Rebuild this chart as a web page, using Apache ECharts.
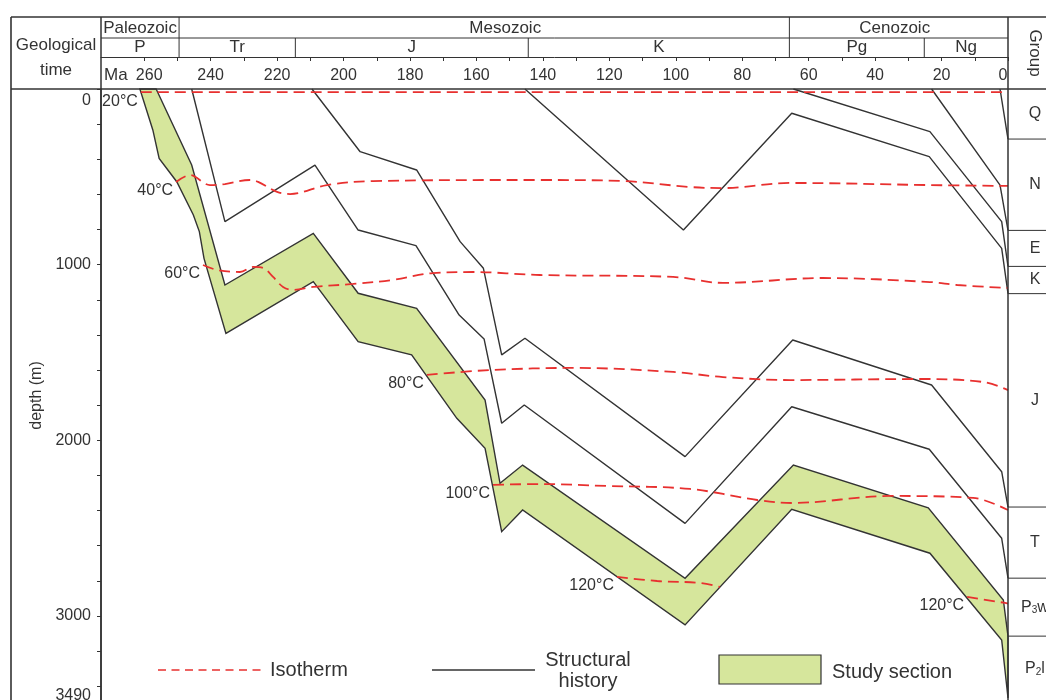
<!DOCTYPE html>
<html>
<head>
<meta charset="utf-8">
<title>Burial and thermal history</title>
<script src="https://cdn.jsdelivr.net/npm/echarts@6.0.0/dist/echarts.min.js"></script>
<style>
  html, body { margin: 0; padding: 0; background: #fff; overflow: hidden; }
  #chart { width: 1046px; height: 712px; }
</style>
</head>
<body>
<div id="chart"></div>
<script>
// ---- Time scale (Ma) ----
const ageTicks = [260, 250, 240, 230, 220, 210, 200, 190, 180, 170, 160, 150, 140, 130,
                  120, 110, 100, 90, 80, 70, 60, 50, 40, 30, 20, 10, 0];
const ageLabels = [260, 240, 220, 200, 180, 160, 140, 120, 100, 80, 60, 40, 20, 0];

// ---- Depth scale (m) ----
const depthTicks = [0, 200, 400, 600, 800, 1000, 1200, 1400, 1600, 1800, 2000, 2200,
                    2400, 2600, 2800, 3000, 3200, 3400];
const depthLabels = [0, 1000, 2000, 3000, 3490];

// ---- Stratigraphic header ----
const eraNames = ['Paleozoic', 'Mesozoic', 'Cenozoic'];
const eraBounds = [273, 249.5, 65.8, 0];
const periodNames = ['P', 'Tr', 'J', 'K', 'Pg', 'Ng'];
const periodBounds = [273, 249.5, 214.5, 144.4, 65.8, 25.2, 0];

// ---- Present-day groups (top depth, m) ----
const groupNames = ['Q', 'N', 'E', 'K', 'J', 'T', 'P3w', 'P2l'];
const groupTops = [0, 285, 805, 1010, 1165, 2380, 2785, 3115];
const groupBase = 3490;

// ---- Burial paths of horizon bases: [age (Ma), depth (m)] ----
const baseQ = [[2.4, 0], [0, 285]];
const baseN = [[23, 0], [2.4, 547], [0, 805]];
const baseE = [[64.6, 0], [23.5, 243], [1.9, 755], [0, 1010]];
const baseK = [[145.4, 0], [97.7, 803], [65.1, 138], [23.7, 385], [1.9, 907], [0, 1165]];
const baseJ = [[209.5, 0], [195, 357], [178, 461], [164.9, 869], [157.9, 1021], [152.4, 1514],
               [145.4, 1419], [97.2, 2093], [64.8, 1429], [23, 1685], [1.9, 2179], [0, 2380]];
const baseT = [[245.7, 0], [235.7, 755], [208.6, 433], [195.6, 803], [178.2, 892], [165.2, 1287],
               [157.7, 1423], [152.4, 1903], [145.6, 1799], [97.2, 2473], [65.1, 1809],
               [23.7, 2051], [1.9, 2558], [0, 2785]];

// ---- Study section: top and base horizons ----
const studyTop = [[256.4, 0], [245.7, 433], [235.7, 1116], [209.1, 822], [195.6, 1163], [178, 1249],
                  [157.4, 1771], [152.9, 2245], [146.1, 2141], [97.2, 2786], [64.6, 2141],
                  [24, 2384], [1.4, 2909], [0, 3115]];
const studyBase = [[261.3, 0], [257.4, 233], [255.5, 395], [250.2, 528], [245.2, 717], [243.4, 812],
                   [242, 964], [235.4, 1391], [209.1, 1097], [195.6, 1439], [179.5, 1514],
                   [165.9, 1875], [157.4, 2046], [152.4, 2520], [146.1, 2397], [97.2, 3051],
                   [65.1, 2393], [23.5, 2643], [1.9, 3137], [0, 3467]];

// ---- Isotherms: [age (Ma), depth (m)] ----
const iso20 = [[261, 18], [0, 18]];
const iso40 = [[250.4, 529], [246.2, 490], [240.2, 547], [235.7, 541], [228.2, 518], [225.7, 529],
               [220, 586], [216.1, 598], [205, 547], [191.1, 524], [140.9, 518], [115.9, 524],
               [95.7, 558], [85.8, 564], [65.6, 535], [23.5, 547], [0, 552]];
const iso60 = [[242.3, 1002], [238.1, 1030], [231.2, 1042], [227.2, 1013], [224.2, 1019],
               [221.2, 1070], [218.2, 1127], [215.2, 1144], [209.2, 1127], [197.1, 1110],
               [185.1, 1087], [173.1, 1048], [161, 1042], [140.9, 1059], [100.8, 1070],
               [85.8, 1104], [55.7, 1076], [23.5, 1099], [15.3, 1116], [0, 1133]];
const iso80 = [[174.9, 1628], [155.9, 1600], [130.3, 1588], [100.8, 1611], [85.8, 1640],
               [65.6, 1657], [26.5, 1651], [7.5, 1668], [0, 1714]];
const iso100 = [[155, 2254], [140.9, 2249], [120.7, 2260], [95.7, 2277], [75.5, 2340],
                [65, 2357], [35.5, 2317], [10.5, 2328], [0, 2397]];
const iso120a = [[117.7, 2778], [105.6, 2801], [92.7, 2812], [86.7, 2835]];
const iso120b = [[12.3, 2892], [0.9, 2926], [0, 2930]];
const isoNames = ['20°C', '40°C', '60°C', '80°C', '100°C', '120°C', '120°C'];

const INK = '#333';
const TEXT = '#333';
const RED = '#e8302f';
const GREEN = '#d6e69c';
const FONT = '"Liberation Sans", Arial, sans-serif';

const isotherms = [iso20, iso40, iso60, iso80, iso100, iso120a, iso120b];
const horizons = [baseQ, baseN, baseE, baseK, baseJ, baseT];

function studyPolygon(params, api) {
  const ring = studyTop.concat(studyBase.slice().reverse());
  return {
    type: 'polygon',
    shape: { points: ring.map(p => api.coord(p)) },
    style: { fill: GREEN, stroke: INK, lineWidth: 1.4 }
  };
}

const series = [
  {
    type: 'custom', name: 'Study section', renderItem: studyPolygon,
    data: [[0, 0]], z: 2, silent: true
  }
];
horizons.forEach(h => series.push({
  type: 'line', data: h, showSymbol: false, z: 3, silent: true,
  lineStyle: { color: INK, width: 1.4 }
}));
isotherms.forEach(iso => series.push({
  type: 'line', data: iso, showSymbol: false, z: 4, silent: true, smooth: 0.35,
  lineStyle: { color: RED, width: 1.8, type: [11, 6] }
}));
// Temperature captions sit at the start of each isotherm
series.push({
  type: 'scatter', symbolSize: 0, z: 5, silent: true,
  itemStyle: { opacity: 1 },
  data: isotherms.map((iso, i) => ({ value: iso[0], name: isoNames[i] })),
  label: {
    show: true, position: 'left', distance: 3, offset: [0, 9], opacity: 1,
    formatter: p => p.name, color: TEXT, fontSize: 16, fontFamily: FONT,
    textBorderWidth: 0
  }
});

const option = {
  animation: false,
  backgroundColor: '#fff',
  grid: { left: 101, top: 89, width: 907, height: 613 },
  xAxis: [
    {
      type: 'value', min: 0, max: 273, inverse: true, position: 'top',
      axisLine: { show: false }, axisTick: { show: false },
      axisLabel: { show: false }, splitLine: { show: false }
    },
    {
      type: 'value', min: 0, max: 273, inverse: true, position: 'top', offset: 32,
      axisLine: { show: true, onZero: false, lineStyle: { color: INK, width: 1 } },
      axisTick: { show: true, inside: true, length: 4, customValues: ageTicks,
                  lineStyle: { color: INK, width: 1 } },
      axisLabel: {
        inside: true, margin: 11, customValues: ageLabels,
        color: TEXT, fontSize: 16, fontFamily: FONT,
        formatter: v => v === 260 ? '{a|260}' : (v === 0 ? '{b|0}' : String(v)),
        rich: {
          a: { padding: [0, 0, 0, 10], fontSize: 16, color: TEXT, fontFamily: FONT },
          b: { padding: [0, 10, 0, 0], fontSize: 16, color: TEXT, fontFamily: FONT }
        }
      },
      splitLine: { show: false }
    }
  ],
  yAxis: {
    type: 'value', min: 0, max: 3490, inverse: true, position: 'left',
    name: 'depth (m)', nameLocation: 'middle', nameGap: 53, nameRotate: 90,
    nameTextStyle: { color: TEXT, fontSize: 16, fontFamily: FONT },
    axisLine: { show: true, onZero: false, lineStyle: { color: INK, width: 1.5 } },
    axisTick: { show: true, length: 4, customValues: depthTicks, lineStyle: { color: INK } },
    axisLabel: {
      margin: 10, customValues: depthLabels, color: TEXT, fontSize: 16, fontFamily: FONT,
      formatter: v => v === 0 ? '{t|0}' : (v === 3490 ? '{u|3490}' : String(v)),
      rich: {
        t: { padding: [24, 0, 0, 0], fontSize: 16, color: TEXT, fontFamily: FONT },
        u: { padding: [0, 0, 12, 0], fontSize: 16, color: TEXT, fontFamily: FONT }
      }
    },
    splitLine: { show: false }
  },
  series: series
};

const chart = echarts.init(document.getElementById('chart'));
chart.setOption(option);

// ---- Table frame, stratigraphic header, group column and legend ----
const px = t => chart.convertToPixel({ xAxisIndex: 0 }, t);
const py = d => chart.convertToPixel({ yAxisIndex: 0 }, d);

const xL = px(273), xR = px(0);
const yTop = 17, yEra = 38, yPer = 57, yPlot = py(0), yEnd = 712;
const g = [];
const line = (x1, y1, x2, y2, w) => g.push({
  type: 'line', silent: true, z: 10,
  shape: { x1, y1, x2, y2 }, style: { stroke: INK, lineWidth: w || 1 }
});
const text = (x, y, s, opt) => g.push(Object.assign({
  type: 'text', silent: true, z: 10, x, y,
  style: Object.assign({ text: s, fill: TEXT, fontSize: 17, fontFamily: FONT,
                         align: 'center', verticalAlign: 'middle' }, (opt && opt.style) || {})
}, opt && opt.rotation !== undefined ? { rotation: opt.rotation } : {}));

// outer frame
line(11, yTop, 1046, yTop, 1.6);
line(11, yPlot, 1046, yPlot, 1.6);
line(11, yTop, 11, yEnd, 1.6);
line(xL, yTop, xL, yEnd, 1.5);
line(xR, yTop, xR, yEnd, 1.5);
line(xL, yEra, xR, yEra, 1);

// left header cell
text(56, 45, 'Geological');
text(56, 70, 'time');
text(xL + 3, 75, 'Ma', { style: { align: 'left' } });

// eras
const eraShift = [0, 21, -4];
eraNames.forEach((n, i) => {
  const a = px(eraBounds[i]), b = px(eraBounds[i + 1]);
  if (i > 0) line(a, yTop, a, yEra, 1);
  text((a + b) / 2 + eraShift[i], (yTop + yEra) / 2 + 0.5, n);
});
// periods
periodNames.forEach((n, i) => {
  const a = px(periodBounds[i]), b = px(periodBounds[i + 1]);
  if (i > 0) line(a, yEra, a, yPer, 1);
  text((a + b) / 2, (yEra + yPer) / 2, n);
});

// group column
const xG = xR + 27;
text(xG, 53, 'Group', { rotation: -Math.PI / 2 });
const groupRich = {
  n: { fontSize: 16, fontFamily: FONT, fill: TEXT },
  s: { fontSize: 10, fontFamily: FONT, fill: TEXT, verticalAlign: 'bottom', padding: [6, 0, 0, 0] }
};
groupNames.forEach((n, i) => {
  const a = py(groupTops[i]);
  const b = py(i + 1 < groupTops.length ? groupTops[i + 1] : groupBase);
  if (i > 0) line(xR, a, 1046, a, 1);
  const m = n.match(/^([A-Z])(\d)(\w)$/);
  const s = m ? '{n|' + m[1] + '}{s|' + m[2] + '}{n|' + m[3] + '}' : '{n|' + n + '}';
  text(xG, (a + b) / 2, s, { style: { rich: groupRich, fontSize: 16 } });
});

// legend
const yLeg = 670;
g.push({ type: 'line', silent: true, z: 10, shape: { x1: 158, y1: yLeg, x2: 262, y2: yLeg },
         style: { stroke: RED, lineWidth: 1.7, lineDash: [8, 5.5] } });
text(270, yLeg, 'Isotherm', { style: { align: 'left', fontSize: 20 } });
line(432, yLeg, 535, yLeg, 1.4);
text(588, 660, 'Structural', { style: { fontSize: 20 } });
text(588, 681, 'history', { style: { fontSize: 20 } });
g.push({ type: 'rect', silent: true, z: 10, shape: { x: 719, y: 655, width: 102, height: 29 },
         style: { fill: GREEN, stroke: INK, lineWidth: 1.2 } });
text(832, 672, 'Study section', { style: { align: 'left', fontSize: 20 } });

chart.setOption({ graphic: g });
</script>
</body>
</html>
